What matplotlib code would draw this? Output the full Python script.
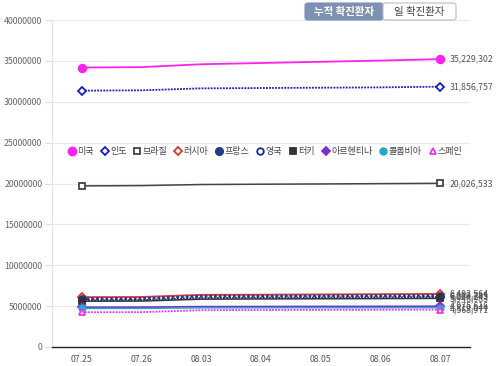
import matplotlib
matplotlib.use("Agg")
import matplotlib.pyplot as plt
from matplotlib.patches import FancyBboxPatch
from matplotlib.lines import Line2D

plt.rcParams['font.family'] = ['Noto Sans CJK KR', 'DejaVu Sans']

dates = ["07.25", "07.26", "08.03", "08.04", "08.05", "08.06", "08.07"]
countries = ["미국", "인도", "브라질", "러시아", "프랑스", "영국", "터키", "아르헨티나", "콜롬비아", "스페인"]

us = [34200000, 34250000, 34600000, 34750000, 34900000, 35050000, 35229302]
india = [31370000, 31410000, 31650000, 31690000, 31730000, 31770000, 31856757]
brazil = [19710000, 19750000, 19880000, 19920000, 19950000, 19990000, 20026533]
russia = [6100000, 6120000, 6380000, 6400000, 6430000, 6460000, 6492564]
france = [5900000, 5920000, 6200000, 6220000, 6240000, 6265000, 6289785]
uk = [5700000, 5730000, 5990000, 6020000, 6050000, 6070000, 6094243]
turkey = [5600000, 5620000, 5850000, 5880000, 5900000, 5920000, 5946983]
argentina = [4860000, 4870000, 4930000, 4940000, 4955000, 4965000, 4975616]
colombia = [4710000, 4720000, 4790000, 4800000, 4808000, 4814000, 4819044]
spain = [4250000, 4260000, 4500000, 4520000, 4540000, 4555000, 4568971]

series = [us, india, brazil, russia, france, uk, turkey, argentina, colombia, spain]
yticks = [0, 5000000, 10000000, 15000000, 20000000, 25000000, 30000000, 35000000, 40000000]

dot = (0, (1, 0.7))
styles = [
    dict(color='#ff22ee', ls='-', lw=1.3, marker='o', mfc='#ff22ee', ms=5.5),
    dict(color='#1a1acc', ls=dot, lw=1.3, marker='D', mfc='white', ms=4),
    dict(color='#444444', ls='-', lw=1.1, marker='s', mfc='white', ms=4),
    dict(color='#e03535', ls='-', lw=1.3, marker='D', mfc='white', ms=4),
    dict(color='#1f3d8f', ls=dot, lw=2.0, marker='o', mfc='#1f3d8f', ms=5),
    dict(color='#1a2a8a', ls=dot, lw=1.3, marker='o', mfc='white', ms=4.5),
    dict(color='#333333', ls='-', lw=1.1, marker='s', mfc='#333333', ms=4),
    dict(color='#7a2fcf', ls='-', lw=1.3, marker='D', mfc='#7a2fcf', ms=4),
    dict(color='#22a8c8', ls='-', lw=1.1, marker='o', mfc='#22a8c8', ms=4.5),
    dict(color='#ee33ee', ls=dot, lw=1.3, marker='^', mfc='white', ms=4.5),
]

fig = plt.figure(figsize=(5, 3.66), dpi=100)
ax = fig.add_axes([0.104, 0.052, 0.836, 0.893])
x = list(range(len(dates)))

for vals, st in zip(series, styles):
    ax.plot(x, vals, color=st['color'], ls=st['ls'], lw=st['lw'], marker=st['marker'],
            mfc=st['mfc'], mec=st['color'], mew=1.3, ms=st['ms'], markevery=[0, len(vals) - 1],
            zorder=3)
    ax.annotate(f"{vals[-1]:,}", (x[-1], vals[-1]), xytext=(7, 0), textcoords='offset points',
                va='center', ha='left', fontsize=6.3, color='#555555')

ax.set_xlim(-0.5, len(dates) - 0.5)
ax.set_ylim(0, 40000000)
ax.set_yticks(yticks)
ax.set_yticklabels([str(v) for v in yticks], fontsize=6.3, color='#666666')
ax.set_xticks(x)
ax.set_xticklabels(dates, fontsize=6.3, color='#555555')
ax.tick_params(axis='y', length=5, color='#dddddd', pad=2)
ax.tick_params(axis='x', length=0, pad=6)
ax.grid(axis='y', color='#e8e8e8', lw=0.8)
ax.set_axisbelow(True)
for s in ['top', 'right']:
    ax.spines[s].set_visible(False)
ax.spines['left'].set_color('#e4e4e4')
ax.spines['bottom'].set_color('#222222')
ax.spines['bottom'].set_linewidth(1.0)

handles = []
for name, st in zip(countries, styles):
    handles.append(Line2D([], [], ls='none', marker=st['marker'], mfc=st['mfc'], mec=st['color'],
                          mew=1.3, ms=st['ms'] * 1.05, label=name))
fig.legend(handles=handles, loc='center', bbox_to_anchor=(0.53, 0.585), ncol=10, frameon=False,
           fontsize=6.5, handletextpad=0.1, columnspacing=0.7, handlelength=1.0,
           labelcolor='#444444')

# toggle buttons
b1 = FancyBboxPatch((305 / 500, 1 - 20 / 366), 78 / 500, 17 / 366,
                    boxstyle='round,pad=0,rounding_size=0.006', transform=fig.transFigure,
                    fc='#7f91b3', ec='#7f91b3', lw=0.8)
b2 = FancyBboxPatch((383 / 500, 1 - 20 / 366), 73 / 500, 17 / 366,
                    boxstyle='round,pad=0,rounding_size=0.006', transform=fig.transFigure,
                    fc='white', ec='#b8bcc6', lw=0.8)
fig.patches.extend([b1, b2])
fig.text(344 / 500, 1 - 11.5 / 366, "누적 확진환자", ha='center', va='center', fontsize=7.5,
         color='white', fontweight='bold')
fig.text(419.5 / 500, 1 - 11.5 / 366, "일 확진환자", ha='center', va='center', fontsize=7.5,
         color='#444444')

fig.savefig("out.png", dpi=100)
